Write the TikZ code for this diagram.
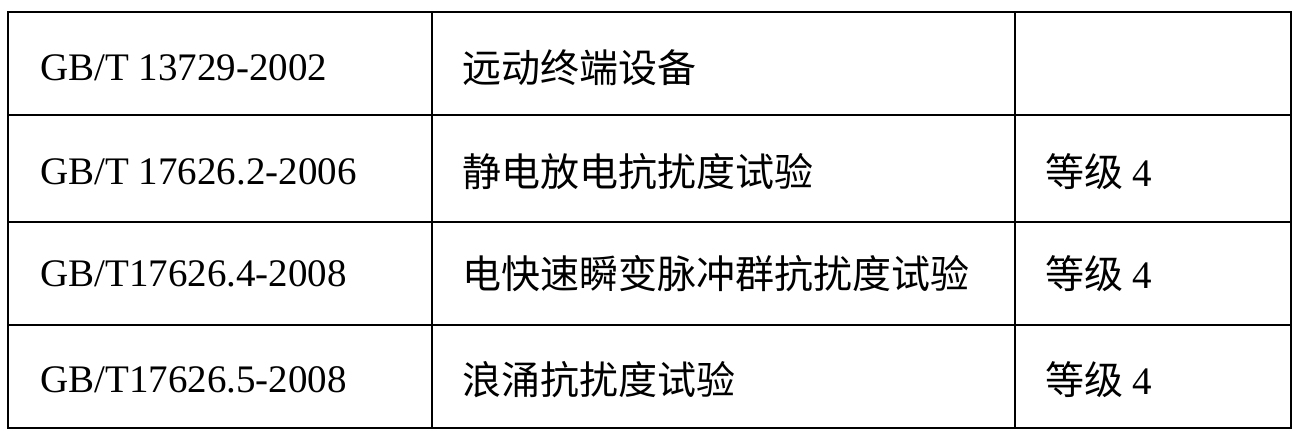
\documentclass[tikz,border=0pt]{standalone}
\usepackage{fontspec}
\setmainfont{Liberation Serif}
\newfontfamily\cjk{Noto Sans CJK SC}
\begin{document}
\begin{tikzpicture}[x=1pt,y=-1pt,
  cell/.style={anchor=west,inner sep=0pt,font=\fontsize{39}{44}\selectfont}]
\useasboundingbox (0,0) rectangle (1300,437);
\draw[line width=1.2pt] (8,12) rectangle (1291,428);
\foreach \yy in {115,222,325} \draw[line width=1.2pt] (8,\yy) -- (1291,\yy);
\foreach \xx in {432,1015} \draw[line width=1.2pt] (\xx,12) -- (\xx,428);
\node[cell] (a1) at (40,68) {GB/T 13729-2002};
\node[cell] (b1) at (462,68) {\cjk 远动终端设备};
\node[cell] (a2) at (40,172) {GB/T 17626.2-2006};
\node[cell] (b2) at (462,172) {\cjk 静电放电抗扰度试验};
\node[cell] (c2) at (1045,172) {{\cjk 等级} 4};
\node[cell] (a3) at (40,274) {GB/T17626.4-2008};
\node[cell] (b3) at (462,274) {\cjk 电快速瞬变脉冲群抗扰度试验};
\node[cell] (c3) at (1045,274) {{\cjk 等级} 4};
\node[cell] (a4) at (40,380) {GB/T17626.5-2008};
\node[cell] (b4) at (462,380) {\cjk 浪涌抗扰度试验};
\node[cell] (c4) at (1045,380) {{\cjk 等级} 4};
\end{tikzpicture}
\end{document}
